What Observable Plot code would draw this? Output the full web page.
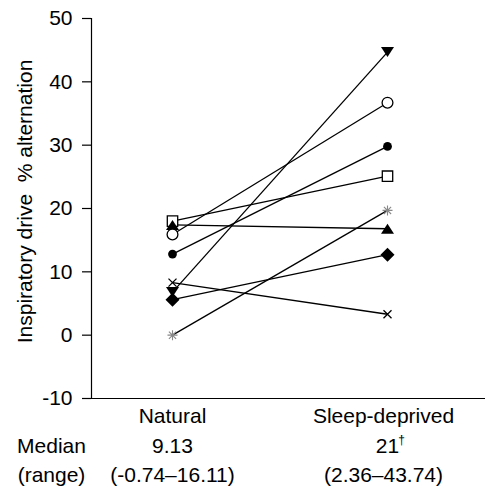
<!DOCTYPE html>
<html>
<head>
<meta charset="utf-8">
<script src="https://cdn.jsdelivr.net/npm/d3@7"></script>
<script src="https://cdn.jsdelivr.net/npm/@observablehq/plot@0.6"></script>
<style>
  html, body { margin: 0; padding: 0; background: #fff; }
</style>
</head>
<body>
<div id="chart"></div>
<script>
const conditions = ["Natural", "Sleep-deprived"];
const subjects = ["triangleDown", "circle", "dot", "square", "triangle", "diamond", "times", "asterisk"];
const natural = [6.8, 15.9, 12.8, 18.0, 17.4, 5.6, 8.3, 0.0];
const sleepDeprived = [44.7, 36.7, 29.8, 25.1, 16.8, 12.7, 3.3, 19.7];
const yTicks = [-10, 0, 10, 20, 30, 40, 50];
const medianLabels = ["9.13", "21"];
const rangeLabels = ["(-0.74\u201316.11)", "(2.36\u201343.74)"];
const rowLabels = ["Median", "(range)"];
const yLabel = "Inspiratory drive  % alternation";

const rOf = size => Math.sqrt(size / Math.PI);
const triUp = {draw(c, s) { const r = rOf(s); c.moveTo(0, -r); c.lineTo(1.3 * r, r); c.lineTo(-1.3 * r, r); c.closePath(); }};
const triDown = {draw(c, s) { const r = rOf(s); c.moveTo(0, r); c.lineTo(1.3 * r, -r); c.lineTo(-1.3 * r, -r); c.closePath(); }};
const diamond = {draw(c, s) { const r = rOf(s); c.moveTo(0, -r); c.lineTo(r, 0); c.lineTo(0, r); c.lineTo(-r, 0); c.closePath(); }};
const square = {draw(c, s) { const r = rOf(s); c.rect(-r, -r, 2 * r, 2 * r); }};
const times = {draw(c, s) { const r = rOf(s); c.moveTo(-r, -r); c.lineTo(r, r); c.moveTo(r, -r); c.lineTo(-r, r); }};
const aster = {draw(c, s) { const r = rOf(s); const d = r * 0.72;
  c.moveTo(0, -r); c.lineTo(0, r); c.moveTo(-r, 0); c.lineTo(r, 0);
  c.moveTo(-d, -d); c.lineTo(d, d); c.moveTo(d, -d); c.lineTo(-d, d); }};

const styles = {
  triangleDown: {symbol: triDown, r: 5, fill: "#000", stroke: "none"},
  circle: {symbol: "circle", r: 5.4, fill: "#fff", stroke: "#000", strokeWidth: 1.3},
  dot: {symbol: "circle", r: 4.4, fill: "#000", stroke: "none"},
  square: {symbol: square, r: 5.2, fill: "#fff", stroke: "#000", strokeWidth: 1.3},
  triangle: {symbol: triUp, r: 5, fill: "#000", stroke: "none"},
  diamond: {symbol: diamond, r: 7, fill: "#000", stroke: "none"},
  times: {symbol: times, r: 4, fill: "none", stroke: "#000", strokeWidth: 1.3},
  asterisk: {symbol: aster, r: 5, fill: "none", stroke: "#888", strokeWidth: 1.1}
};
const drawOrder = ["square", "triangle", "circle", "dot", "times", "triangleDown", "diamond", "asterisk"];

const pairs = subjects.map((s, i) => ({subject: s, n: natural[i], d: sleepDeprived[i]}));
const points = subjects.flatMap((s, i) => [
  {subject: s, condition: conditions[0], value: natural[i]},
  {subject: s, condition: conditions[1], value: sleepDeprived[i]}
]);

const font = "'Liberation Sans', Arial, Helvetica, sans-serif";
const colDx = (d, i) => (i === 1 ? -4 : 0);

const chart = Plot.plot({
  width: 485,
  height: 488,
  marginTop: 18,
  marginBottom: 90,
  marginLeft: 91,
  marginRight: 0,
  style: {fontFamily: font, fontSize: "21px", background: "#fff", color: "#000"},
  x: {type: "point", domain: conditions, range: [172, 387], padding: 0, axis: null},
  y: {domain: [-10, 50], axis: null},
  marks: [
    Plot.axisY({ticks: yTicks, tickSize: 9, tickPadding: 10, fontSize: 21, tickFormat: d => String(d), label: null, strokeWidth: 1.2}),
    Plot.frame({anchor: "left", strokeWidth: 1.2}),
    Plot.ruleY([-10], {strokeWidth: 1.2}),
    Plot.link(pairs, {x1: () => conditions[0], x2: () => conditions[1], y1: "n", y2: "d", stroke: "#000", strokeWidth: 1.3}),
    ...drawOrder.map(s => Plot.dot(points.filter(p => p.subject === s), {x: "condition", y: "value", ...styles[s]})),
    Plot.text([conditions[0]], {x: d => d, frameAnchor: "bottom", dy: 18, textAnchor: "middle", lineAnchor: "middle", fontSize: 21}),
    Plot.text([conditions[1]], {x: d => d, frameAnchor: "bottom", dy: 18, dx: -4, textAnchor: "middle", lineAnchor: "middle", fontSize: 21}),
    Plot.text(medianLabels, {x: (d, i) => conditions[i], frameAnchor: "bottom", dy: 48, textAnchor: "middle", lineAnchor: "middle", fontSize: 21}),
    Plot.text(["\u2020"], {x: () => conditions[1], frameAnchor: "bottom", dy: 42, dx: 14, textAnchor: "middle", lineAnchor: "middle", fontSize: 12}),
    Plot.text([rangeLabels[0]], {x: () => conditions[0], frameAnchor: "bottom", dy: 77, textAnchor: "middle", lineAnchor: "middle", fontSize: 21}),
    Plot.text([rangeLabels[1]], {x: () => conditions[1], frameAnchor: "bottom", dy: 77, dx: -4, textAnchor: "middle", lineAnchor: "middle", fontSize: 21}),
    Plot.text([rowLabels[0]], {frameAnchor: "bottom-left", dx: -40, dy: 48, textAnchor: "middle", lineAnchor: "middle", fontSize: 21}),
    Plot.text([rowLabels[1]], {frameAnchor: "bottom-left", dx: -40, dy: 77, textAnchor: "middle", lineAnchor: "middle", fontSize: 21}),
    Plot.text([yLabel], {frameAnchor: "left", dx: -66, dy: -7, rotate: -90, textAnchor: "middle", lineAnchor: "middle", fontSize: 21})
  ]
});
document.getElementById("chart").appendChild(chart);
</script>
</body>
</html>
